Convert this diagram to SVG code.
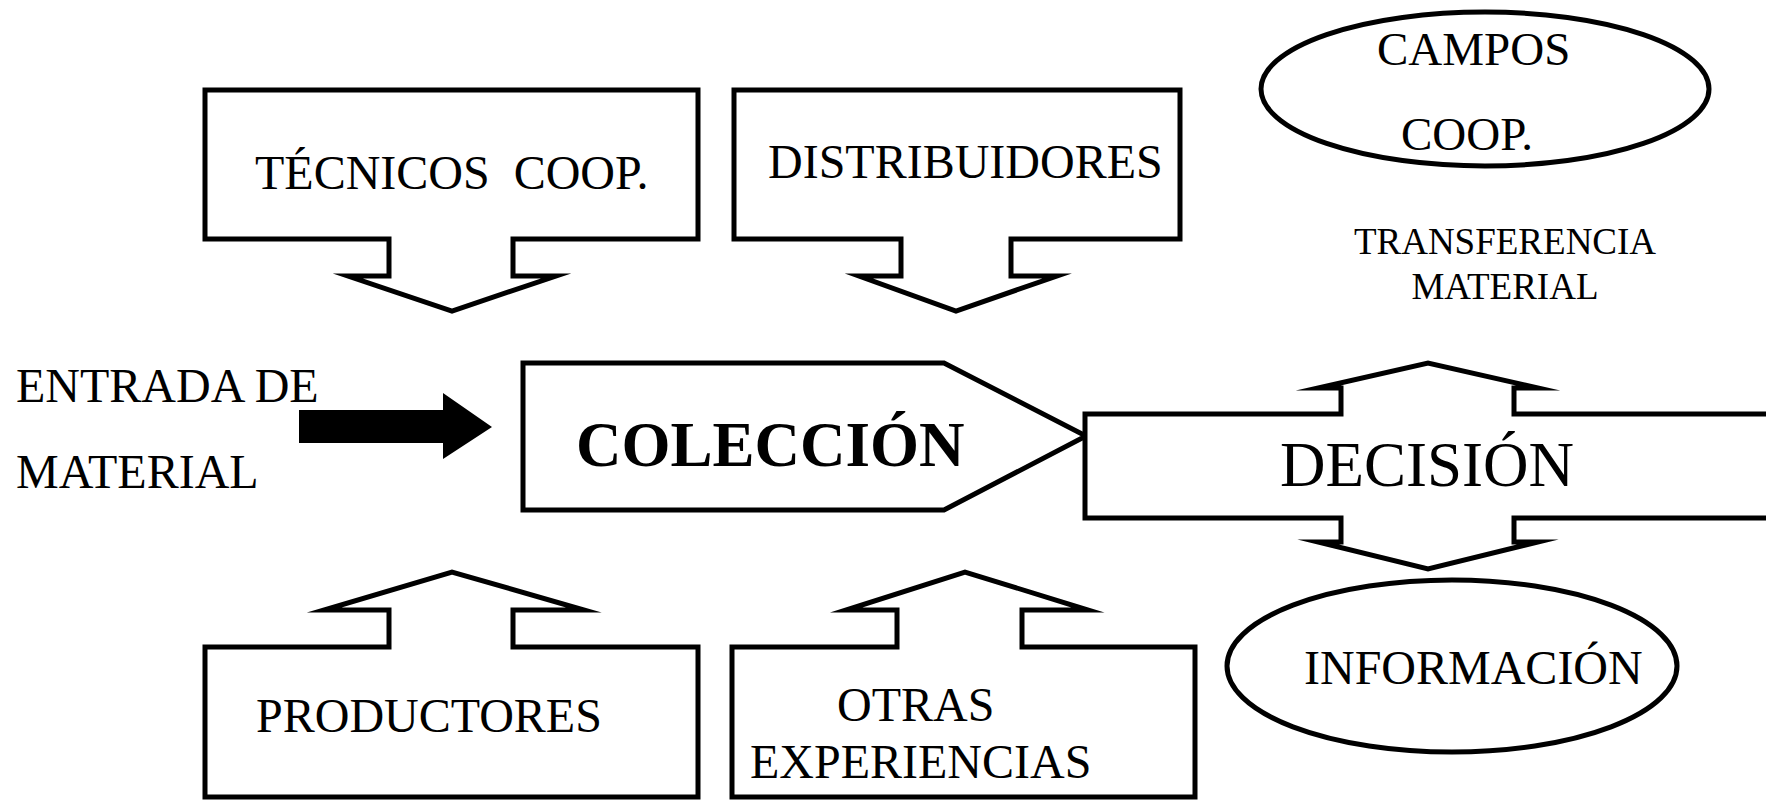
<svg xmlns="http://www.w3.org/2000/svg" width="1766" height="801" viewBox="0 0 1766 801">
<style>
.sh{fill:#fff;stroke:#000;stroke-width:5;stroke-linejoin:miter;stroke-miterlimit:12}
.t{font-family:"Liberation Serif","Times New Roman",serif;fill:#000}
</style>
<rect width="1766" height="801" fill="#fff"/>
<g id="connectors">
<path d="M299,410 H443 V393 L492,427 L443,459 V443 H299 Z" fill="#000"/>
</g>
<g id="tecnicos">
<path class="sh" d="M205,90 H698 V239 H513 V276 H556 L452,311 L348,276 H389 V239 H205 Z"/>
<text class="t" x="255" y="189" font-size="48" xml:space="preserve">TÉCNICOS  COOP.</text>
</g>
<g id="distribuidores">
<path class="sh" d="M734,90 H1180 V239 H1011 V276 H1057 L956,311 L859,276 H901 V239 H734 Z"/>
<text class="t" x="768" y="178" font-size="48">DISTRIBUIDORES</text>
</g>
<g id="campos">
<ellipse class="sh" cx="1485" cy="89" rx="224" ry="77"/>
<text class="t" x="1377" y="65" font-size="47">CAMPOS</text>
<text class="t" x="1401" y="150" font-size="47">COOP.</text>
</g>
<g id="transferencia">
<text class="t" x="1505" y="254" font-size="37" text-anchor="middle">TRANSFERENCIA</text>
<text class="t" x="1505" y="299" font-size="37" text-anchor="middle">MATERIAL</text>
</g>
<g id="entrada">
<text class="t" x="16" y="402" font-size="48">ENTRADA DE</text>
<text class="t" x="16" y="488" font-size="48">MATERIAL</text>
</g>
<g id="coleccion">
<path class="sh" d="M523,363 H944 L1086,436 L944,510 H523 Z"/>
<text class="t" x="576" y="466" font-size="63" font-weight="bold">COLECCIÓN</text>
</g>
<g id="decision">
<path class="sh" d="M1085,414 H1341 V388 H1318 L1428,363 L1538,388 H1514 V414 H1800 V518 H1514 V542 H1538 L1428,569 L1318,542 H1341 V518 H1085 Z"/>
<text class="t" x="1280" y="486" font-size="63">DECISIÓN</text>
</g>
<g id="informacion">
<ellipse class="sh" cx="1452" cy="666" rx="225" ry="86"/>
<text class="t" x="1304" y="684" font-size="48">INFORMACIÓN</text>
</g>
<g id="productores">
<path class="sh" d="M205,797 V647 H389 V610 H324 L452,572 L584,610 H513 V647 H698 V797 Z"/>
<text class="t" x="256" y="732" font-size="48">PRODUCTORES</text>
</g>
<g id="otras">
<path class="sh" d="M732,797 V647 H897 V610 H846 L965,572 L1088,610 H1022 V647 H1195 V797 Z"/>
<text class="t" x="837" y="721" font-size="48">OTRAS</text>
<text class="t" x="750" y="778" font-size="48">EXPERIENCIAS</text>
</g>
</svg>
